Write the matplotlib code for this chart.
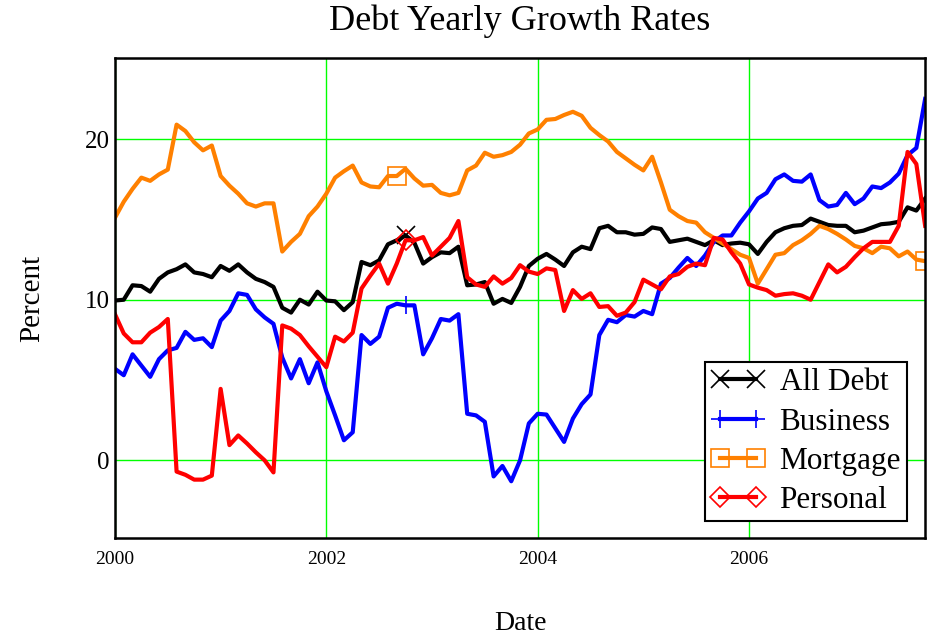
import numpy as np
import matplotlib
matplotlib.use('Agg')
import matplotlib.pyplot as plt

# monthly observations, Jan 2000 .. Sep 2007
months = 2000 + np.arange(93) / 12.0

all_debt = [9.95, 10.0, 10.9, 10.85, 10.5, 11.3, 11.7, 11.9, 12.2, 11.7, 11.6, 11.4,
            12.1, 11.8, 12.2, 11.7, 11.3, 11.1, 10.8, 9.5, 9.2, 10.0, 9.7, 10.5,
            9.95, 9.9, 9.35, 9.85, 12.35, 12.15, 12.45, 13.45, 13.7, 14.0, 13.55, 12.25,
            12.65, 12.95, 12.9, 13.3, 10.9, 10.95, 11.1, 9.75, 10.05, 9.8, 10.8, 12.1,
            12.55, 12.85, 12.5, 12.1, 12.95, 13.3, 13.15, 14.45, 14.6, 14.2, 14.2, 14.05,
            14.1, 14.5, 14.4, 13.6, 13.7, 13.8, 13.6, 13.4, 13.7, 13.4, 13.5, 13.55,
            13.45, 12.85, 13.6, 14.2, 14.45, 14.6, 14.65, 15.05, 14.85, 14.65, 14.6, 14.6,
            14.2, 14.3, 14.5, 14.7, 14.75, 14.85, 15.75, 15.55, 16.3]

business = [5.7, 5.3, 6.6, 5.9, 5.2, 6.3, 6.85, 7.0, 8.0, 7.5, 7.6, 7.05,
            8.7, 9.3, 10.4, 10.3, 9.4, 8.9, 8.5, 6.4, 5.1, 6.3, 4.8, 6.1,
            4.3, 2.8, 1.25, 1.75, 7.8, 7.25, 7.7, 9.5, 9.75, 9.65, 9.65, 6.6,
            7.6, 8.8, 8.7, 9.1, 2.9, 2.8, 2.4, -1.0, -0.35, -1.3, 0.0, 2.3,
            2.9, 2.85, 2.0, 1.15, 2.6, 3.5, 4.1, 7.8, 8.75, 8.6, 9.05, 8.95,
            9.3, 9.1, 11.0, 11.35, 12.0, 12.6, 12.1, 12.75, 13.6, 14.0, 14.0, 14.8,
            15.5, 16.3, 16.65, 17.5, 17.8, 17.4, 17.35, 17.8, 16.2, 15.8, 15.9, 16.65,
            15.95, 16.3, 17.05, 16.95, 17.3, 17.85, 19.0, 19.45, 22.5]

mortgage = [15.1, 16.1, 16.9, 17.6, 17.4, 17.8, 18.1, 20.9, 20.5, 19.8, 19.3, 19.6,
            17.7, 17.1, 16.6, 16.0, 15.8, 16.0, 16.0, 13.0, 13.6, 14.1, 15.2, 15.8,
            16.6, 17.6, 18.0, 18.35, 17.3, 17.05, 17.0, 17.7, 17.7, 18.15, 17.55, 17.1,
            17.15, 16.65, 16.5, 16.65, 18.05, 18.35, 19.15, 18.9, 19.0, 19.2, 19.65, 20.35,
            20.6, 21.2, 21.25, 21.5, 21.7, 21.45, 20.7, 20.25, 19.85, 19.2, 18.8, 18.4,
            18.05, 18.9, 17.3, 15.6, 15.2, 14.9, 14.8, 14.2, 13.85, 13.5, 13.15, 12.8,
            12.6, 11.0, 11.9, 12.8, 12.9, 13.4, 13.7, 14.1, 14.6, 14.4, 14.1, 13.75,
            13.35, 13.2, 12.9, 13.3, 13.2, 12.7, 13.0, 12.5, 12.4]

personal = [9.1, 7.9, 7.35, 7.35, 7.95, 8.3, 8.8, -0.7, -0.9, -1.2, -1.2, -0.95,
            4.45, 0.95, 1.55, 1.05, 0.5, 0.0, -0.75, 8.4, 8.2, 7.8, 7.1, 6.45,
            5.8, 7.7, 7.4, 7.95, 10.7, 11.5, 12.25, 11.0, 12.25, 13.7, 13.7, 13.9,
            12.75, 13.3, 13.85, 14.9, 11.4, 10.95, 10.8, 11.45, 11.0, 11.35, 12.15, 11.75,
            11.6, 11.95, 11.85, 9.3, 10.6, 10.05, 10.4, 9.55, 9.6, 9.0, 9.2, 9.85,
            11.25, 10.95, 10.65, 11.45, 11.6, 12.05, 12.25, 12.15, 13.85, 13.75, 12.95, 12.25,
            10.95, 10.75, 10.6, 10.25, 10.35, 10.4, 10.25, 10.0, 11.1, 12.2, 11.7, 12.05,
            12.65, 13.2, 13.6, 13.6, 13.6, 14.6, 19.2, 18.45, 14.6]

plt.rcParams['font.family'] = ['Liberation Serif', 'DejaVu Serif']

fig = plt.figure(figsize=(9.27, 6.37), dpi=100)
ax = fig.add_axes([0.124, 0.155, 0.874, 0.754])

series = [
    ('All Debt', all_debt, 'black', 'x', (33, 60)),
    ('Business', business, '#0000ff', '+', (33, 60)),
    ('Mortgage', mortgage, '#ff8000', 's', (32, 60)),
    ('Personal', personal, '#ff0000', 'D', (33, 60)),
]
for name, vals, col, mk, me in series:
    ms = 10 if mk == 'D' else 13
    ax.plot(months, vals, color=col, lw=3, label=name, marker=mk,
            markevery=me, markersize=ms, markerfacecolor='none',
            markeredgecolor=col, markeredgewidth=1.2)

ax.set_xlim(2000, 2000 + 92 / 12.0)
ax.set_ylim(-4.85, 25.05)
ax.set_xticks([2000, 2002, 2004, 2006])
ax.set_xticklabels(['2000', '2002', '2004', '2006'])
ax.set_yticks([0, 10, 20])
ax.grid(True, color='#00ff00', lw=1)
ax.set_axisbelow(True)
ax.tick_params(axis='both', length=0)
ax.tick_params(axis='x', labelsize=14, pad=9)
ax.tick_params(axis='y', labelsize=18, pad=4)
for sp in ax.spines.values():
    sp.set_linewidth(1.8)

ax.set_title('Debt Yearly Growth Rates', fontsize=26, pad=20)
ax.set_xlabel('Date', fontsize=20, labelpad=31)
ax.set_ylabel('Percent', fontsize=21, labelpad=28)

leg = ax.legend(loc='lower right', bbox_to_anchor=(0.978, 0.035), fontsize=22.5,
                numpoints=2, handlelength=1.75, labelspacing=0.33,
                borderpad=0.2, handletextpad=0.45, fancybox=False,
                framealpha=1, edgecolor='black', borderaxespad=0)
leg.get_frame().set_linewidth(1.5)

fig.savefig('out.png', dpi=100)
